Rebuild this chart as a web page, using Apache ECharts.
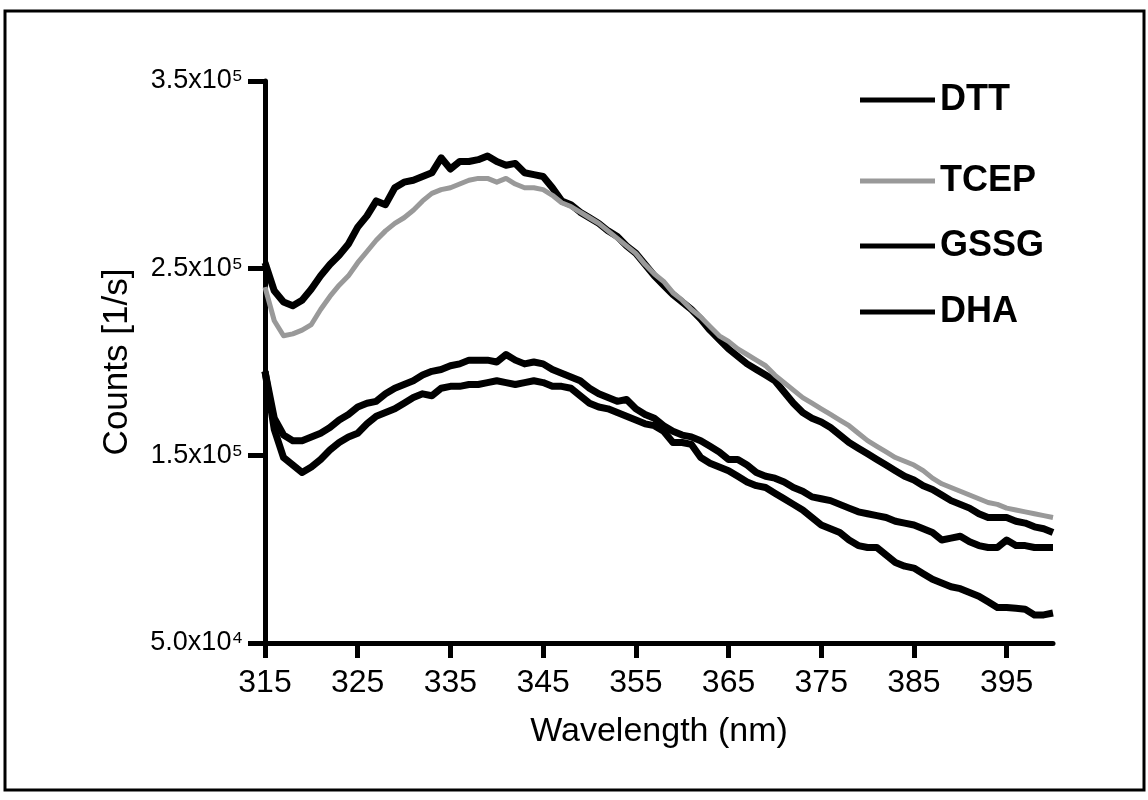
<!DOCTYPE html>
<html>
<head>
<meta charset="utf-8">
<script src="https://cdn.jsdelivr.net/npm/echarts@6/dist/echarts.min.js"></script>
<style>
html, body { margin: 0; padding: 0; background: #fff; }
#chart { width: 1148px; height: 800px; }
</style>
</head>
<body>
<div id="chart"></div>
<script>
// wavelength (nm), one point per nm
const wavelength = [315,316,317,318,319,320,321,322,323,324,325,326,327,328,329,330,331,332,333,334,335,336,337,338,339,340,
  341,342,343,344,345,346,347,348,349,350,351,352,353,354,355,356,357,358,359,360,361,362,363,364,365,366,367,368,369,370,
  371,372,373,374,375,376,377,378,379,380,381,382,383,384,385,386,387,388,389,390,391,392,393,394,395,396,397,398,399,400];

const dtt = [253000,238000,232000,230000,233000,239000,246000,252000,257000,263000,272000,278000,286000,284000,293000,296000,
  297000,299000,301000,309000,303000,307000,307000,308000,310000,307000,305000,306000,301000,300000,299000,293000,286000,
  284000,280000,277000,274000,270000,267000,262000,258000,252000,246000,241000,236000,232000,228000,223000,217000,212000,
  207000,203000,199000,196000,193000,190000,184000,178000,173000,170000,168000,165000,161000,157000,154000,151000,148000,
  145000,142000,139000,137000,134000,132000,129000,126000,124000,122000,119000,117000,117000,117000,115000,114000,112000,
  111000,109000];

const tcep = [240000,222000,214000,215000,217000,220000,228000,235000,241000,246000,253000,259000,265000,270000,274000,277000,
  281000,286000,290000,292000,293000,295000,297000,298000,298000,296000,298000,295000,293000,293000,292000,289000,285000,
  283000,280000,277000,274000,270000,266000,262000,258000,252000,247000,243000,237000,233000,228000,224000,219000,214000,
  211000,207000,204000,201000,198000,193000,189000,185000,181000,178000,175000,172000,169000,166000,162000,158000,155000,
  152000,149000,147000,145000,142000,138000,135000,133000,131000,129000,127000,125000,124000,122000,121000,120000,119000,
  118000,117000];

const gssg = [195000,170000,161000,158000,158000,160000,162000,165000,169000,172000,176000,178000,179000,183000,186000,188000,
  190000,193000,195000,196000,198000,199000,201000,201000,201000,200000,204000,201000,199000,200000,199000,196000,194000,
  192000,190000,186000,183000,181000,179000,180000,175000,172000,170000,166000,163000,161000,160000,158000,155000,152000,
  148000,148000,145000,141000,139000,138000,136000,133000,131000,128000,127000,126000,124000,122000,120000,119000,118000,
  117000,115000,114000,113000,111000,109000,105000,106000,107000,104000,102000,101000,101000,105000,102000,102000,101000,
  101000,101000];

const dha = [195000,164000,149000,145000,141000,144000,148000,153000,157000,160000,162000,167000,171000,173000,175000,178000,
  181000,183000,182000,186000,187000,187000,188000,188000,189000,190000,189000,188000,189000,190000,189000,187000,187000,
  186000,182000,178000,176000,175000,173000,171000,169000,167000,166000,163000,157000,157000,156000,149000,146000,144000,
  142000,139000,136000,134000,133000,130000,127000,124000,121000,117000,113000,111000,109000,105000,102000,101000,101000,
  97000,93000,91000,90000,87000,84000,82000,80000,79000,77000,75000,72000,69000,69000,68500,68000,65000,65000,66000];

const xTicks = [315,325,335,345,355,365,375,385,395];
const yTicks = [50000,150000,250000,350000];

const legendTops = [77, 158, 223, 289];

const chart = echarts.init(document.getElementById('chart'));

function pairs(ys) {
  return wavelength.map((x, i) => [x, ys[i]]);
}

const supDigits = { '4': '\u2074', '5': '\u2075' };
function sci(v) {
  const e = Math.floor(Math.log10(v));
  const m = (v / Math.pow(10, e)).toFixed(1);
  return m + 'x10' + supDigits[String(e)];
}

const names = ['DTT', 'TCEP', 'GSSG', 'DHA'];
const colors = ['#000', '#999999', '#000', '#000'];
const values = [dtt, tcep, gssg, dha];

chart.setOption({
  animation: false,
  backgroundColor: '#fff',
  grid: { left: 265, right: 95, top: 81, bottom: 157 },
  legend: names.map((n, i) => ({
    data: [n],
    left: 855,
    top: legendTops[i],
    icon: 'rect',
    itemWidth: 75,
    itemHeight: 5,
    itemGap: 0,
    textStyle: { fontFamily: 'Liberation Sans', fontWeight: 'bold', fontSize: 36, color: '#000', lineHeight: 36 }
  })),
  xAxis: {
    type: 'value',
    min: 315,
    max: 400,
    name: 'Wavelength (nm)',
    nameLocation: 'middle',
    nameGap: 72,
    nameTextStyle: { fontFamily: 'Liberation Sans', fontSize: 34, color: '#000' },
    axisLine: { lineStyle: { color: '#000', width: 5 } },
    axisTick: { customValues: xTicks, length: 15, lineStyle: { color: '#000', width: 5 } },
    axisLabel: { customValues: xTicks, margin: 24, color: '#000', fontFamily: 'Liberation Sans Narrow, Liberation Sans', fontSize: 32 },
    splitLine: { show: false }
  },
  yAxis: {
    type: 'value',
    min: 50000,
    max: 350000,
    name: 'Counts [1/s]',
    nameLocation: 'middle',
    nameGap: 130,
    nameTextStyle: { fontFamily: 'Liberation Sans', fontSize: 35, color: '#000' },
    axisLine: { lineStyle: { color: '#000', width: 5 } },
    axisTick: { customValues: yTicks, length: 17, lineStyle: { color: '#000', width: 5 } },
    axisLabel: {
      customValues: yTicks,
      margin: 22,
      formatter: sci,
      color: '#000',
      fontFamily: 'Liberation Sans Narrow, Liberation Sans',
      fontSize: 27
    },
    splitLine: { show: false }
  },
  graphic: [{
    type: 'rect',
    shape: { x: 5, y: 11, width: 1139, height: 779 },
    style: { fill: 'none', stroke: '#000', lineWidth: 3 }
  }],
  series: names.map((n, i) => ({
    name: n,
    type: 'line',
    data: pairs(values[i]),
    symbol: 'none',
    z: i === 1 ? 3 : 2,
    lineStyle: { color: colors[i], width: i === 1 ? 5 : 7, join: 'round' },
    itemStyle: { color: colors[i] }
  }))
});
</script>
</body>
</html>
